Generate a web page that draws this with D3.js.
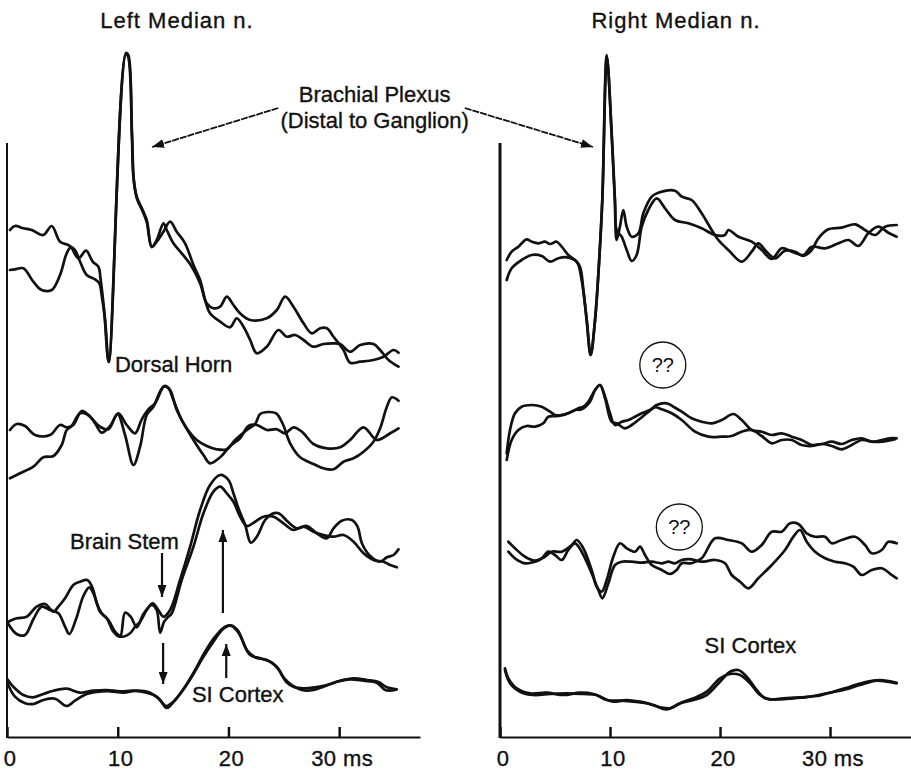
<!DOCTYPE html>
<html>
<head>
<meta charset="utf-8">
<script src="https://cdn.jsdelivr.net/npm/d3@7"></script>
<style>
  body { margin: 0; background: #fff; }
  text { font-family: "Liberation Sans", Arial, Helvetica, sans-serif; fill: #111; stroke: #111; stroke-width: 0.35px; }
</style>
</head>
<body>
<div id="chart"></div>
<script>
// ---- data: [time (ms), amplitude (arbitrary units)] for every averaged trace ----
const leftPlexusA = [[0.27,-2],[0.72,2],[1.48,-0.3],[2.23,-2],[3.28,-7],[4.04,2],[4.79,-13.7],[5.54,-17],[6.14,-22],[6.6,-33.7],[7.2,-47],[7.95,-51.3],[8.34,-55.3],[8.55,-67],[8.86,-92],[9.19,-134],[10.75,175],[10.96,173],[11.27,95],[11.42,51],[11.72,31],[12.17,20],[12.62,8],[13.07,-19],[13.52,-12],[14.13,4.7],[14.43,-2],[15.03,-15.3],[15.78,-25.3],[16.69,-38.7],[17.44,-55.3],[18.04,-75.3],[18.64,-80.3],[19.25,-78.7],[19.85,-68.7],[20.45,-77],[21.05,-85.3],[21.96,-92],[23.46,-90.3],[24.37,-82],[25.12,-68.7],[25.87,-78.7],[26.78,-95.3],[27.53,-105.3],[28.28,-100.3],[28.89,-100.3],[29.49,-108.7],[30.39,-122],[30.99,-134.7],[31.9,-133.7],[33.1,-132],[34.01,-128.7],[34.91,-122],[35.36,-124.7]];
const leftPlexusB = [[0.27,-42],[0.72,-41.3],[1.48,-40.3],[2.38,-53.7],[3.13,-62],[4.04,-62],[4.79,-47],[5.39,-25.3],[5.75,-19.7],[6.45,-30.3],[7.14,-22.7],[7.74,-33.7],[8.25,-38.7],[8.46,-52],[8.77,-82],[9.19,-134],[10.72,174],[10.92,172],[11.3,92],[11.45,48],[11.75,29],[12.2,18],[12.62,6],[13.07,-19],[13.52,-13.7],[14.13,-3.7],[14.73,6.3],[15.33,-3.7],[16.08,-15.3],[16.84,-37],[17.44,-52],[17.89,-72],[18.34,-85.3],[19.25,-93.7],[20.15,-99.3],[20.75,-90.3],[21.36,-98.7],[21.96,-112],[22.56,-125.3],[23.46,-118.7],[24.52,-102],[25.27,-108.7],[26.02,-107],[26.78,-112],[27.68,-118.7],[28.58,-116],[29.49,-115.3],[30.09,-116],[30.99,-123.7],[31.9,-117],[33.1,-116],[33.7,-122],[34.46,-132],[35.36,-138.7]];

const leftDorsalA = [[0.27,0],[0.87,6],[1.63,4],[2.53,-5],[3.89,-5],[4.79,5],[5.39,2.7],[5.99,5],[6.75,19],[7.5,13.3],[8.4,3.3],[9.16,0.7],[9.97,16],[10.66,-5],[11.42,-35],[12.02,-16.7],[12.62,15],[13.22,23.3],[14.13,43.3],[14.58,41.7],[15.03,30],[15.78,10],[16.84,-10],[17.74,-25],[18.34,-33.3],[19.25,-27.3],[20.15,-16],[21.05,-8.3],[21.81,4],[22.56,5],[23.46,0],[24.37,0.7],[25.12,-3.3],[25.87,2.7],[26.63,-1.7],[27.68,-14],[28.89,-18.3],[30.09,-17.3],[30.99,-10],[32.2,2.7],[33.4,-10],[34.61,-3.3],[35.36,1.7]];
const leftDorsalB = [[0.27,-48.3],[1.17,-43.3],[2.38,-36.7],[3.28,-27.3],[4.19,-26],[4.94,-15],[5.39,0],[5.84,4],[6.6,16.7],[7.35,15],[7.95,6.7],[8.55,-2.7],[9.31,4],[10.06,16.7],[10.81,5],[11.57,-3.3],[12.17,10.7],[12.77,20.7],[13.37,26.7],[14.22,44],[14.73,40],[15.33,20],[16.23,1.7],[17.14,-10],[18.04,-16],[18.95,-19.3],[19.85,-19.3],[20.6,-10],[21.66,0],[22.41,6],[22.86,16],[23.61,18],[24.31,16.7],[24.91,6],[25.57,-13.3],[26.48,-27.3],[27.68,-34],[28.58,-38.3],[29.49,-39.3],[30.39,-31.7],[31.3,-28.3],[32.2,-21.7],[33.1,-11.7],[33.7,1.7],[34.31,23.3],[34.76,32.7],[35.36,29.3]];

const leftStemA = [[0.12,-11.7],[0.87,-8.3],[1.78,-6.7],[2.68,3.3],[3.43,6],[4.19,-1.7],[4.64,3.3],[5.24,11.7],[5.99,25],[6.6,28.3],[7.26,30],[7.74,21.7],[8.1,6.7],[8.55,-3.3],[9.16,-10],[9.76,-21.7],[10.36,-26.7],[11.11,-23.3],[11.57,-16.7],[12.02,-11.7],[12.62,0],[13.16,6.7],[13.67,0],[14.13,-6.7],[14.73,0],[15.63,30],[16.54,63.3],[17.44,100],[18.34,125],[19.25,135],[20,130],[20.45,116.7],[20.9,101.7],[21.51,85],[22.02,67.3],[22.56,73.3],[23.31,90],[23.92,96],[24.52,96.7],[25.27,89.3],[26.17,81.7],[27.08,84],[27.98,76.7],[28.89,71.7],[29.49,81.7],[30.24,89.3],[31.14,90],[31.66,83.3],[32.05,66.7],[32.8,54],[33.7,48.3],[34.31,52.7],[34.91,55],[35.36,60.7]];
const leftStemB = [[0.12,-14],[0.87,-24],[1.63,-25],[2.38,-9.3],[3.13,3.3],[3.89,0],[4.64,-3.3],[5.24,-16.7],[5.63,-24],[6.23,-9.3],[6.9,14],[7.44,22.7],[7.95,12.7],[8.4,-1.7],[9.01,-8.3],[9.61,-21.7],[10.21,-26.7],[10.66,-2.7],[11.17,-6.7],[11.72,-17.3],[12.32,-4],[13.07,5],[13.52,0],[13.83,-22.7],[14.19,-11.7],[14.58,-6.7],[14.88,-3.3],[15.78,30],[16.84,63.3],[17.74,96.7],[18.64,118.3],[19.25,123.3],[19.85,116.7],[20.45,108.3],[21.05,93.3],[21.66,84],[22.41,88.3],[23.16,93.3],[24.07,93.3],[24.97,86.7],[25.87,80],[26.78,83.3],[27.68,78.3],[28.58,75],[29.49,73.3],[30.39,75],[31.3,68.3],[32.2,56.7],[33.1,50],[34.01,48.3],[34.61,45],[35.21,42.7]];

const leftCortexA = [[0.03,10.7],[0.57,3.3],[1.48,-5],[2.38,-7.3],[3.28,-4],[4.19,-0.7],[5.39,1.3],[6.6,-2.7],[7.8,-0.7],[9.01,0],[10.21,-1.3],[11.42,-0.7],[12.62,-2.7],[13.52,-6.7],[14.37,-16],[15.03,-11.7],[15.78,-1.7],[16.69,13.3],[17.74,33.3],[18.64,48.3],[19.49,60.7],[20.15,64.7],[20.81,60],[21.36,46.7],[21.96,35],[22.86,31.7],[23.77,28.3],[24.52,20.7],[25.21,8.3],[25.87,3.3],[26.78,1.7],[27.83,2.7],[28.89,5],[30.09,9.3],[31.3,11.7],[32.5,10],[33.55,8],[34.31,2.7],[35.21,0.7]];
const leftCortexB = [[0.03,7.3],[0.72,-6.7],[1.63,-13.3],[2.38,-14],[3.28,-10],[4.34,-8.7],[5.39,-16],[6.14,-10.7],[7.05,-4.7],[8.1,-2],[9.31,-1.3],[10.51,-2.7],[11.72,-0.7],[12.92,-2.7],[13.83,-10],[14.43,-18],[15.18,-10],[16.08,3.3],[16.99,20],[17.89,38.3],[18.8,53.3],[19.7,63.3],[20.3,64],[21.05,55],[21.66,40],[22.41,32.7],[23.46,30],[24.37,23.3],[24.97,12.7],[25.72,5],[26.63,0],[27.68,0],[28.58,3.3],[29.79,8.3],[30.99,10.7],[32.2,9.3],[33.4,7.3],[34.16,0],[35.06,0]];

const rightPlexusA = [[0.61,5],[1.06,13.3],[1.67,18.3],[2.42,25.7],[2.88,23.3],[3.48,21.7],[4.09,23.3],[4.55,21],[5.15,23.3],[5.61,18.3],[6.21,10],[6.82,5],[7.27,-1.7],[7.58,-25],[7.88,-55],[8.24,-90],[8.64,-55],[9.0,1.7],[9.3,65],[9.7,210],[10.15,132],[10.45,65],[10.6,25],[10.9,38.3],[11.21,55],[11.52,38.3],[11.97,28.3],[12.58,31.7],[13.03,51.7],[13.79,68.3],[14.39,72.3],[15.91,74.3],[16.52,68.3],[17.42,65],[18.33,51.7],[19.24,35],[19.85,25],[20.76,15],[21.97,3.3],[22.88,13.3],[23.48,21.7],[24.09,15],[25,6.7],[25.91,14.3],[26.82,13.3],[27.58,9],[28.33,15],[28.94,26.7],[29.85,35.7],[31.06,37.3],[32.27,40.7],[33.18,35],[34.09,30],[35,38.3],[36.06,40]];
const rightPlexusB = [[0.61,-15],[1.06,-3.3],[1.97,5],[2.88,10],[3.79,9],[4.55,3.3],[5.3,6.7],[6.06,7.7],[6.97,3.3],[7.42,-15],[7.88,-55],[8.24,-90],[8.64,-55],[9.0,1.7],[9.3,65],[9.72,208],[10.15,130],[10.45,62],[10.6,35],[11.06,28.3],[11.52,15],[11.97,4],[12.42,10],[12.88,38.3],[13.48,55],[14.24,66.7],[15,56.7],[15.91,45],[17.12,41.7],[18.33,36.7],[19.55,30],[20.45,30],[20.76,35],[21.67,28.3],[22.88,23.3],[23.79,15],[24.7,6],[25.61,16.7],[26.52,13.3],[27.58,10],[28.33,18.3],[29.55,16.7],[30.76,21.7],[31.67,25],[32.58,19],[33.48,31.7],[34.39,38.3],[35.3,32.3],[36.06,28.3]];

const rightDorsalA = [[0.61,-33.3],[0.91,-10],[1.36,6.7],[1.97,13.3],[2.88,15],[3.79,13.3],[4.55,8.3],[5,5],[5.61,5],[6.52,8.3],[7.12,11.7],[7.58,13.3],[8.03,18.3],[8.64,30],[9.09,35],[9.55,23.3],[10,6.7],[10.45,-5],[11.06,-1.7],[11.67,0],[12.27,3.3],[12.88,6.7],[13.64,10],[14.24,15],[15.15,16.7],[15.76,13.3],[16.52,8.3],[17.42,1.7],[18.33,-1.7],[19.24,-3.3],[20.15,0],[21.21,6],[21.97,0],[22.88,-10],[23.79,-11.7],[24.7,-15],[25.61,-13.3],[26.52,-16.7],[27.42,-20],[28.33,-25],[29.24,-24],[30.15,-21.7],[31.06,-24],[31.97,-20],[32.88,-18.3],[33.79,-21.7],[34.7,-20],[35.45,-18.3],[36.06,-18.3]];
const rightDorsalB = [[0.61,-40],[1.06,-20],[1.67,-10],[2.42,-6],[3.18,-6.7],[3.94,-3.3],[4.39,3.3],[5.3,4],[6.21,6.7],[6.82,10],[7.42,10.7],[8.18,18.3],[8.64,30],[9.09,35],[9.55,21.7],[10.15,-1.7],[10.61,-3.3],[11.36,-8.3],[11.97,-5],[12.58,0],[13.33,6.7],[14.09,12.7],[14.7,10.7],[15.61,6.7],[16.52,0],[17.73,-11.7],[18.94,-16.7],[20.15,-16.7],[21.06,-16],[21.97,-11.7],[22.88,-10],[23.79,-16],[24.7,-23.3],[25.61,-20],[26.52,-20],[27.42,-25],[28.33,-26],[29.24,-24],[30.15,-26],[31.06,-29.3],[31.97,-25],[32.88,-20],[33.79,-21.7],[34.7,-21.7],[35.91,-19.3]];

const rightStemA = [[0.76,18.3],[1.36,11.7],[2.27,3.3],[3.18,-0.7],[4.09,3.3],[4.7,8.3],[5.61,8.3],[6.52,15],[6.97,20],[7.58,11.7],[8.33,-10],[8.79,-26.7],[9.24,-31.7],[9.7,-20],[10.3,3.3],[10.91,16.7],[11.52,11.7],[12.27,8.3],[12.73,13.3],[13.18,5],[13.79,-5],[14.7,-10],[15.45,-14],[16.06,-10],[16.52,-3.3],[17.42,-3.3],[18.33,1.7],[19.55,21.7],[20.76,20],[21.97,16.7],[22.88,8.3],[23.79,15],[24.7,28.3],[25.61,28.3],[26.36,36.7],[27.12,36],[27.88,26.7],[28.64,23.3],[29.55,23.3],[30.15,16.7],[31.06,20],[32.27,23.3],[33.18,15],[33.79,6.7],[34.7,10],[35.3,18.3],[36.06,16.7]];
const rightStemB = [[0.76,8.3],[1.36,1.7],[2.27,-3.3],[3.18,-1.7],[3.79,1.7],[4.39,8.3],[5,5],[5.61,0],[6.21,10],[6.82,16.7],[7.42,8.3],[8.33,-13.3],[8.94,-30],[9.3,-38.3],[9.85,-23.3],[10.45,-5],[11.06,-1.7],[11.97,-1.7],[12.88,-2.7],[13.79,-1.7],[14.7,-3.3],[15.3,-1.7],[15.91,-3.3],[16.52,0],[17.42,0.7],[18.33,-1.7],[19.55,0],[20.45,-3.3],[21.06,-15],[21.82,-21.7],[22.58,-28.3],[23.48,-18.3],[24.7,-5],[25.91,10],[26.67,23.3],[27.27,30],[27.88,18.3],[28.64,8.3],[29.55,1.7],[30.45,-1.7],[31.36,-3.3],[32.12,-6.7],[32.88,-15],[33.79,-10],[34.7,-8.3],[35.61,-15],[36.06,-18.3]];

const rightCortexA = [[0.45,26.7],[0.76,16.7],[1.52,6.7],[2.73,1.7],[4.24,2.3],[5.76,0],[7.27,2.3],[8.48,1],[9.39,-3.3],[10.3,-6.7],[11.52,-5],[12.73,-6.7],[13.94,-10],[15.15,-14.3],[16.36,-8.3],[17.58,-5],[18.79,0],[20,13.3],[20.91,23.3],[21.67,25],[22.42,18.3],[23.33,5],[24.09,-3.3],[25.45,-4.3],[26.67,-3.3],[28.18,-1.7],[29.7,1.7],[31.21,5],[32.73,10],[34.24,14.3],[35.15,13.3],[36.06,11.7]];
const rightCortexB = [[0.45,25],[0.91,11.7],[1.82,3.3],[3.03,0],[4.55,1],[6.06,1.7],[7.58,1],[8.79,0],[9.7,-5],[10.91,-5.7],[12.12,-6.7],[13.33,-8.3],[14.55,-12.3],[15.45,-13.3],[16.67,-6.7],[17.58,-3.3],[18.79,3.3],[20,16.7],[20.91,21],[21.82,20],[22.73,11.7],[23.64,0],[24.55,-4.3],[25.76,-3.3],[27.27,-2.3],[28.79,-1],[30.3,3.3],[31.82,8.3],[33.33,13.3],[34.55,15],[36.06,12.3]];

const tickValues = [0, 10, 20, 30];
const tickLabels = ["0", "10", "20", "30 ms"];
const panelTitles = ["Left Median n.", "Right Median n."];

// ---- layout ----
const width = 911, height = 774;
const axisTop = 143, axisBottom = 737;

const panels = [
  {title: panelTitles[0], x0: 7, x1: 420, tMax: 37.3, titleX: 177, axisW: 2,
   rows: [{base: 228, traces: [leftPlexusA, leftPlexusB]},
          {base: 430, traces: [leftDorsalA, leftDorsalB]},
          {base: 610, traces: [leftStemA, leftStemB]},
          {base: 690, traces: [leftCortexA, leftCortexB]}]},
  {title: panelTitles[1], x0: 500, x1: 911, tMax: 37.36, titleX: 676, axisW: 3,
   rows: [{base: 265, traces: [rightPlexusA, rightPlexusB]},
          {base: 420, traces: [rightDorsalA, rightDorsalB]},
          {base: 560, traces: [rightStemA, rightStemB]},
          {base: 695, traces: [rightCortexA, rightCortexB]}]}
];

const svg = d3.select("#chart").append("svg")
  .attr("width", width)
  .attr("height", height);

const defs = svg.append("defs");
defs.append("marker")
  .attr("id", "head")
  .attr("viewBox", "0 0 12 9")
  .attr("refX", 12).attr("refY", 4.5)
  .attr("markerWidth", 12).attr("markerHeight", 9)
  .attr("markerUnits", "userSpaceOnUse")
  .attr("orient", "auto")
  .append("path")
  .attr("d", "M0,0L12,4.5L0,9Z")
  .attr("fill", "#111");

panels.forEach(p => {
  p.x = d3.scaleLinear().domain([0, p.tMax]).range([p.x0, p.x1]);

  // title
  svg.append("text")
    .attr("x", p.titleX).attr("y", 28)
    .attr("text-anchor", "middle")
    .style("font-size", "22px")
    .style("letter-spacing", "1px")
    .text(p.title);

  // x axis: line and inward ticks from d3.axisBottom, labels drawn below
  const xAxis = svg.append("g")
    .attr("transform", `translate(0,${axisBottom})`)
    .call(d3.axisBottom(p.x)
      .tickValues(tickValues)
      .tickFormat(() => "")
      .tickSizeInner(-10)
      .tickSizeOuter(0));
  xAxis.select(".domain").attr("stroke", "#111").attr("stroke-width", 2);
  xAxis.selectAll(".tick line").attr("stroke", "#111").attr("stroke-width", 2.5);

  svg.append("g").selectAll("text")
    .data(tickValues)
    .join("text")
    .attr("x", d => p.x(d) + 3)
    .attr("y", 766)
    .attr("text-anchor", "middle")
    .style("font-size", "22px")
    .style("letter-spacing", "0.4px")
    .text((d, i) => tickLabels[i]);

  // y axis line
  svg.append("line")
    .attr("x1", p.x0).attr("x2", p.x0)
    .attr("y1", axisTop).attr("y2", axisBottom + 1)
    .attr("stroke", "#111")
    .attr("stroke-width", p.axisW);

  // traces
  p.rows.forEach(r => {
    const y = d3.scaleLinear().domain([-100, 100]).range([r.base + 100, r.base - 100]);
    const line = d3.line().x(d => p.x(d[0])).y(d => y(d[1])).curve(d3.curveCatmullRom.alpha(0.5));
    svg.append("g").selectAll("path")
      .data(r.traces)
      .join("path")
      .attr("d", line)
      .attr("fill", "none")
      .attr("stroke", "#111")
      .attr("stroke-width", 2.7)
      .attr("stroke-linejoin", "round")
      .attr("stroke-linecap", "round");
  });
});

const L = panels[0].x, R = panels[1].x;

// ---- annotations ----
const labels = [
  {text: "Brachial Plexus", x: L(33.2), y: 102, anchor: "middle"},
  {text: "(Distal to Ganglion)", x: L(33.2), y: 128, anchor: "middle"},
  {text: "Dorsal Horn", x: L(9.75), y: 372, anchor: "start"},
  {text: "Brain Stem", x: L(5.7), y: 549, anchor: "start"},
  {text: "SI Cortex", x: L(16.7), y: 702, anchor: "start"},
  {text: "SI Cortex", x: R(18.6), y: 653, anchor: "start"}
];
svg.append("g").selectAll("text")
  .data(labels)
  .join("text")
  .attr("x", d => d.x).attr("y", d => d.y)
  .attr("text-anchor", d => d.anchor)
  .style("font-size", "22px")
  .text(d => d.text);

const arrows = [
  {x1: L(24.5), y1: 108, x2: L(13.1), y2: 147, thin: true},
  {x1: R(-3.2), y1: 108, x2: R(8.45), y2: 147, thin: true},
  {x1: L(14.0), y1: 553, x2: L(14.0), y2: 597},
  {x1: L(14.1), y1: 643, x2: L(14.1), y2: 684},
  {x1: L(19.5), y1: 613, x2: L(19.5), y2: 530},
  {x1: L(19.8), y1: 678, x2: L(19.8), y2: 644}
];
svg.append("g").selectAll("line")
  .data(arrows)
  .join("line")
  .attr("x1", d => d.x1).attr("y1", d => d.y1)
  .attr("x2", d => d.x2).attr("y2", d => d.y2)
  .attr("stroke", "#111")
  .attr("stroke-width", d => d.thin ? 1.8 : 2.2)
  .attr("stroke-dasharray", d => d.thin ? "7,1" : null)
  .attr("marker-end", "url(#head)");

const queries = [{t: 14.8, y: 365}, {t: 16.3, y: 527}];
const q = svg.append("g").selectAll("g")
  .data(queries)
  .join("g")
  .attr("transform", d => `translate(${R(d.t)},${d.y})`);
q.append("circle")
  .attr("r", 23)
  .attr("fill", "none")
  .attr("stroke", "#111")
  .attr("stroke-width", 1.3);
q.append("text")
  .attr("text-anchor", "middle")
  .attr("y", 7)
  .style("font-size", "20px")
  .style("stroke-width", "0px")
  .text("??");
</script>
</body>
</html>
